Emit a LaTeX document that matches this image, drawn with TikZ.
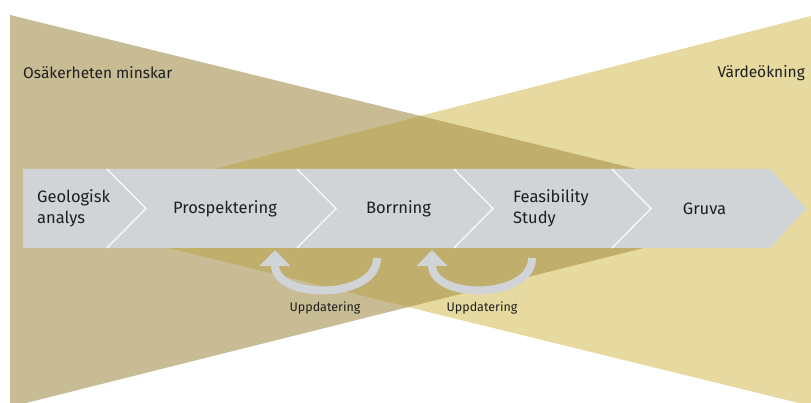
\documentclass[tikz,border=0pt]{standalone}
\usepackage{fontspec}
\setmainfont{Fira Sans}
\usetikzlibrary{arrows.meta}
\definecolor{tanL}{RGB}{200,188,148}
\definecolor{yelR}{RGB}{230,218,160}
\definecolor{ovl}{RGB}{191,174,108}
\definecolor{band}{RGB}{209,212,214}
\definecolor{txt}{RGB}{30,30,30}
\tikzset{
  steplabel/.style={text=txt, font=\fontsize{16.5}{21}\selectfont, inner sep=0pt},
  sidelabel/.style={text=txt, font=\fontsize{15.5}{18}\selectfont, inner sep=0pt},
  looplabel/.style={text=txt, font=\fontsize{12.5}{15}\selectfont, inner sep=0pt},
  chev/.style={white, line width=1.1pt},
  looparrow/.style={band, line width=8pt, -{Triangle[length=16pt,width=30pt]}}
}
\begin{document}
\begin{tikzpicture}[x=1pt,y=-1pt]
\useasboundingbox (0,0) rectangle (811,403);
% triangles
\fill[tanL] (10,15) -- (799,209) -- (10,407) -- cycle;
\fill[yelR] (811,16) -- (33,215) -- (811,406) -- cycle;
\begin{scope}
  \clip (10,15) -- (799,209) -- (10,407) -- cycle;
  \fill[ovl] (811,16) -- (33,215) -- (811,406) -- cycle;
\end{scope}
% band
\fill[band] (23,169) -- (770,169) -- (806,208.5) -- (770,248) -- (23,248) -- cycle;
\draw[chev] (107,169) -- (146,208.5) -- (107,248);
\draw[chev] (297,169) -- (336,208.5) -- (297,248);
\draw[chev] (454,169) -- (493,208.5) -- (454,248);
\draw[chev] (612,169) -- (651,208.5) -- (612,248);
% labels
\node[sidelabel, anchor=west] (osak) at (23,73) {Osäkerheten minskar};
\node[sidelabel, anchor=east] (vard) at (805,73) {Värdeökning};
\node[steplabel, anchor=west, align=left] (geo) at (37,208.5) {Geologisk\\analys};
\node[steplabel] (pros) at (225,209) {Prospektering};
\node[steplabel] (borr) at (398.5,209) {Borrning};
\node[steplabel, anchor=west, align=left] (feas) at (513,208.5) {Feasibility\\Study};
\node[steplabel] (gruva) at (704.5,209) {Gruva};
% loops
\coordinate (l1s) at (377,258);
\coordinate (l1e) at (275,250);
\coordinate (l2s) at (532,258);
\coordinate (l2e) at (432,250);
\draw[looparrow] (l1s) .. controls (377,300) and (275,300) .. (l1e);
\draw[looparrow] (l2s) .. controls (532,300) and (432,300) .. (l2e);
\node[looplabel] (upd1) at (325,308) {Uppdatering};
\node[looplabel] (upd2) at (482,308) {Uppdatering};
\end{tikzpicture}
\end{document}
